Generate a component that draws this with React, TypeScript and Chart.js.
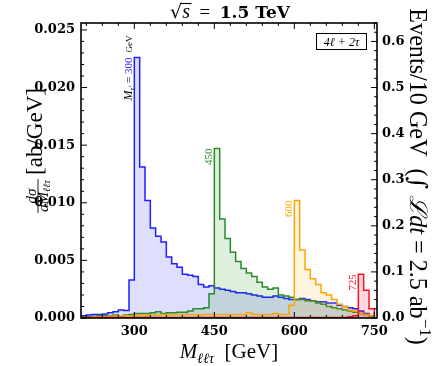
import React, { useEffect, useRef } from "react";
import { Chart, registerables } from "chart.js";

Chart.register(...registerables);

// ---------------- data ----------------
const binStart = 200; // lower edge of first 10 GeV bin
const binWidth = 10;
const xMin = 200;
const xMax = 755;
const yMax = 0.0256;
const eventsPerUnit = 25; // 2.5 ab^-1 x 10 GeV
const xTickValues = [300, 450, 600, 750];
const yTickValues = [0, 0.005, 0.01, 0.015, 0.02, 0.025];
const y2TickValues = [0, 0.1, 0.2, 0.3, 0.4, 0.5, 0.6];
const massLabels = ["300", "450", "600", "725"];

const dsig300 = [
  0.0002, 0.00025, 0.0003, 0.0003, 0.00035, 0.00045, 0.00055, 0.0007, 0.00065, 0.0033,
  0.0226, 0.0131, 0.0102, 0.0078, 0.0071, 0.0066, 0.0053, 0.0047, 0.0044, 0.0038,
  0.0037, 0.0036, 0.0029, 0.0027, 0.0028, 0.0026, 0.0025, 0.0024, 0.0023, 0.0022,
  0.0022, 0.0021, 0.002, 0.0019, 0.0018, 0.0018, 0.0019, 0.0018, 0.0017, 0.0016,
  0.0016, 0.0017, 0.0016, 0.0015, 0.0014, 0.0014, 0.0013, 0.0013, 0.0011, 0.001,
  0.0009, 0.0008, 0.0006, 0.0004, 0.0002,
];
const dsig450 = [
  0.0001, 0.0001, 0.00015, 0.0002, 0.0002, 0.0002, 0.00025, 0.0002, 0.00025, 0.0003,
  0.0004, 0.0004, 0.0004, 0.00045, 0.00055, 0.0004, 0.00045, 0.00045, 0.0005, 0.0005,
  0.0006, 0.0008, 0.0008, 0.0009, 0.0021, 0.0147, 0.0086, 0.0069, 0.0057, 0.0049,
  0.0043, 0.0039, 0.0036, 0.0031, 0.0027, 0.0025, 0.0026, 0.002, 0.0019, 0.0018,
  0.0016, 0.0016, 0.0015, 0.0015, 0.0013, 0.0012, 0.001, 0.0009, 0.0008, 0.0007,
  0.0006, 0.0005, 0.0004, 0.0003, 0.0002,
];
const dsig600 = [
  0.0, 0.00005, 0.0001, 0.0001, 0.0001, 0.00015, 0.00015, 0.0002, 0.0002, 0.0002,
  0.0002, 0.00025, 0.0002, 0.00025, 0.00025, 0.0003, 0.00025, 0.0003, 0.0003, 0.0003,
  0.0003, 0.0003, 0.00025, 0.0003, 0.0003, 0.0003, 0.0003, 0.0003, 0.0003, 0.0003,
  0.0003, 0.00045, 0.0003, 0.0003, 0.0003, 0.0003, 0.0004, 0.0003, 0.0003, 0.0011,
  0.0102, 0.0059, 0.0042, 0.0034, 0.0029, 0.0022, 0.002, 0.0016, 0.0012, 0.001,
  0.0007, 0.0006, 0.0004, 0.0003, 0.0002,
];
const dsig725 = [
  0.00005, 0.00005, 0.00005, 0.00005, 0.00005, 0.00005, 0.00005, 0.00005, 0.00005, 0.00005,
  0.00005, 0.00005, 0.00005, 0.00005, 0.00005, 0.00005, 0.00005, 0.00005, 0.00005, 0.00005,
  0.00005, 0.00005, 0.00005, 0.00005, 0.00005, 0.00005, 0.00005, 0.00005, 0.00005, 0.00005,
  0.00005, 0.00005, 0.00005, 0.00005, 0.00005, 0.00005, 0.00005, 0.00005, 0.00005, 0.00005,
  0.00005, 0.00005, 0.00005, 0.00005, 0.00005, 0.00005, 0.00005, 0.00005, 0.00005, 0.00005,
  0.0001, 0.0002, 0.0038, 0.0024, 0.0008,
];

const seriesValues = [dsig300, dsig450, dsig600, dsig725];
const lineColors = ["#1f1fff", "#2b8a2b", "#ffa500", "#ff1020"];
const fillColors = [
  "rgba(0,0,255,0.13)",
  "rgba(0,128,0,0.13)",
  "rgba(255,165,0,0.12)",
  "rgba(255,0,30,0.15)",
];

// ---------------- text helpers ----------------
const SERIF = "'Liberation Serif', 'DejaVu Serif', serif";
const TICK_FONT = { family: "'DejaVu Serif', serif", size: 13, weight: "bold" as const };

type Run = {
  text: string;
  size: number;
  italic?: boolean;
  bold?: boolean;
  color?: string;
  dy?: number;
  family?: string;
};

function fontOf(r: Run, s: number) {
  return `${r.italic ? "italic " : ""}${r.bold ? "bold " : ""}${(r.size * s).toFixed(2)}px ${r.family ?? SERIF}`;
}
function runsWidth(ctx: CanvasRenderingContext2D, runs: Run[], s = 1) {
  let w = 0;
  for (const r of runs) {
    ctx.font = fontOf(r, s);
    w += ctx.measureText(r.text).width;
  }
  return w;
}
function drawRuns(ctx: CanvasRenderingContext2D, runs: Run[], x: number, y: number, s = 1) {
  ctx.textAlign = "left";
  ctx.textBaseline = "alphabetic";
  let cx = x;
  for (const r of runs) {
    ctx.font = fontOf(r, s);
    ctx.fillStyle = r.color ?? "#000";
    ctx.fillText(r.text, cx, y + (r.dy ?? 0) * s);
    cx += ctx.measureText(r.text).width;
  }
  return cx;
}

// ---------------- decoration plugin ----------------
const decorPlugin = {
  id: "decor",
  afterDraw(chart: any) {
    const ctx: CanvasRenderingContext2D = chart.ctx;
    const a = chart.chartArea;
    const xs = chart.scales.x;
    const ys = chart.scales.y;
    const y2 = chart.scales.y2;
    ctx.save();

    // frame
    ctx.strokeStyle = "#000";
    ctx.lineWidth = 1.6;
    ctx.strokeRect(a.left, a.top, a.right - a.left, a.bottom - a.top);

    // inward ticks
    ctx.lineWidth = 1;
    const seg = (x1: number, y1: number, x2: number, y2p: number) => {
      ctx.beginPath();
      ctx.moveTo(x1, y1);
      ctx.lineTo(x2, y2p);
      ctx.stroke();
    };
    const MAJ = 6;
    const MIN = 3;
    const xStep = (xTickValues[1] - xTickValues[0]) / 5;
    let xv = xTickValues[0];
    while (xv - xStep >= xMin) xv -= xStep;
    for (; xv <= xMax + 1e-9; xv += xStep) {
      const px = xs.getPixelForValue(xv);
      const major = xTickValues.some((t) => Math.abs(t - xv) < 1e-6);
      const L = major ? MAJ : MIN;
      seg(px, a.bottom, px, a.bottom - L);
      seg(px, a.top, px, a.top + L);
    }
    const yStep = (yTickValues[1] - yTickValues[0]) / 5;
    for (let k = 0; k * yStep <= yMax + 1e-12; k++) {
      const v = k * yStep;
      const py = ys.getPixelForValue(v);
      seg(a.left, py, a.left + (k % 5 === 0 ? MAJ : MIN), py);
    }
    const y2Step = (y2TickValues[1] - y2TickValues[0]) / 5;
    for (let k = 0; k * y2Step <= yMax * eventsPerUnit + 1e-12; k++) {
      const v = k * y2Step;
      const py = y2.getPixelForValue(v);
      seg(a.right, py, a.right - (k % 5 === 0 ? MAJ : MIN), py);
    }

    // top title  sqrt(s) = 1.5 TeV
    const titleRuns: Run[] = [
      { text: "√", size: 19, family: "'DejaVu Serif', serif" },
      { text: "s", size: 20, italic: true },
      { text: "  =  ", size: 19 },
      { text: "1.5 TeV", size: 17, bold: true, family: "'DejaVu Serif', serif" },
    ];
    const tw = runsWidth(ctx, titleRuns);
    const tx = (a.left + a.right) / 2 + 1 - tw / 2;
    const tBase = 18;
    drawRuns(ctx, titleRuns, tx, tBase);
    ctx.font = fontOf(titleRuns[0], 1);
    const rootW = ctx.measureText("√").width;
    ctx.font = fontOf(titleRuns[1], 1);
    const sW = ctx.measureText("s").width;
    ctx.lineWidth = 1.1;
    seg(tx + rootW - 1.5, tBase - 14.5, tx + rootW + sW + 1.5, tBase - 14.5);

    // x title
    const xRuns: Run[] = [
      { text: "M", size: 21, italic: true },
      { text: "ℓℓτ", size: 14, italic: true, dy: 5 },
      { text: "  [GeV]", size: 21 },
    ];
    const xw = runsWidth(ctx, xRuns);
    drawRuns(ctx, xRuns, (a.left + a.right) / 2 - xw / 2, chart.height - 8);

    // left title (rotated -90): fraction + [ab/GeV]
    ctx.save();
    ctx.translate(41.5, 213);
    ctx.rotate(-Math.PI / 2);
    const numRuns: Run[] = [{ text: "dσ", size: 15, italic: true }];
    const denRuns: Run[] = [
      { text: "dM", size: 15, italic: true },
      { text: "ℓℓτ", size: 10, italic: true, dy: 2.5 },
    ];
    const nw = runsWidth(ctx, numRuns);
    const dw = runsWidth(ctx, denRuns);
    const fw = Math.max(nw, dw) + 2;
    drawRuns(ctx, numRuns, (fw - nw) / 2, -6);
    drawRuns(ctx, denRuns, (fw - dw) / 2, 6);
    ctx.strokeStyle = "#000";
    ctx.lineWidth = 0.9;
    ctx.beginPath();
    ctx.moveTo(0, -3.5);
    ctx.lineTo(fw, -3.5);
    ctx.stroke();
    const unitRuns: Run[] = [{ text: "[ab/GeV]", size: 21 }];
    const uw = runsWidth(ctx, unitRuns);
    drawRuns(ctx, unitRuns, 38, 0, 87 / uw);
    ctx.restore();

    // right title (rotated +90)
    const rRuns: Run[] = [
      { text: "Events/10 GeV  (", size: 20 },
      { text: "∫", size: 20, family: "'DejaVu Serif', serif" },
      { text: " ", size: 20 },
      { text: "ℒ", size: 20, italic: true },
      { text: "dt", size: 20, italic: true },
      { text: " = 2.5 ab", size: 20 },
      { text: "−1", size: 14, dy: -8 },
      { text: ")", size: 20 },
    ];
    const rs = 337 / runsWidth(ctx, rRuns);
    const rw = runsWidth(ctx, rRuns, rs);
    ctx.save();
    ctx.translate(chart.width - 26, 176.5);
    ctx.rotate(Math.PI / 2);
    drawRuns(ctx, rRuns, -rw / 2, 0, rs);
    ctx.restore();

    // peak labels (rotated -90), anchored on each peak bin
    seriesValues.forEach((vals, i) => {
      let pk = 0;
      vals.forEach((v, j) => {
        if (v > vals[pk]) pk = j;
      });
      const px = xs.getPixelForValue(binStart + pk * binWidth) - 2;
      const py = ys.getPixelForValue(vals[pk]);
      const runs: Run[] =
        i === 0
          ? [
              { text: "M", size: 12, italic: true },
              { text: "τ′", size: 8, italic: true, dy: 2.5 },
              { text: " = ", size: 11 },
              { text: massLabels[i], size: 11, color: lineColors[i] },
            ]
          : [{ text: massLabels[i], size: 11, color: lineColors[i] }];
      const w = runsWidth(ctx, runs);
      ctx.save();
      ctx.translate(px, py);
      ctx.rotate(-Math.PI / 2);
      drawRuns(ctx, runs, -w, 0);
      if (i === 0) drawRuns(ctx, [{ text: "GeV", size: 9 }], 5, 0);
      ctx.restore();
    });

    // channel box
    const boxRuns: Run[] = [
      { text: "4", size: 12, italic: true },
      { text: "ℓ", size: 12, italic: true },
      { text: " + 2", size: 12, italic: true },
      { text: "τ", size: 12, italic: true },
    ];
    const bw = runsWidth(ctx, boxRuns);
    const bx1 = a.right - 10.5;
    const bx0 = bx1 - 50;
    const by0 = a.top + 10.5;
    ctx.lineWidth = 1;
    ctx.strokeStyle = "#000";
    ctx.strokeRect(bx0, by0, 50, 16);
    drawRuns(ctx, boxRuns, bx0 + (50 - bw) / 2, by0 + 12.5);

    ctx.restore();
  },
};

export default function App() {
  const ref = useRef<HTMLCanvasElement>(null);

  useEffect(() => {
    const canvas = ref.current;
    if (!canvas) return;
    const order = [3, 2, 1, 0]; // first dataset is drawn on top
    const datasets = order.map((i) => {
      const vals = seriesValues[i];
      const pts = vals.map((v, j) => ({ x: binStart + j * binWidth, y: v }));
      pts.push({ x: binStart + vals.length * binWidth, y: 0 });
      return {
        label: massLabels[i],
        data: pts,
        stepped: "before" as const,
        fill: "origin",
        borderColor: lineColors[i],
        backgroundColor: fillColors[i],
        borderWidth: 1.5,
        pointRadius: 0,
        xAxisID: "x",
        yAxisID: "y",
      };
    });

    const chart = new Chart(canvas, {
      type: "line",
      data: { datasets },
      options: {
        responsive: false,
        animation: false,
        events: [],
        layout: { padding: { top: 23, left: 0, right: 0, bottom: 0 } },
        plugins: {
          legend: { display: false },
          tooltip: { enabled: false },
          title: { display: false },
        },
        scales: {
          x: {
            type: "linear",
            position: "bottom",
            min: xMin,
            max: xMax,
            grid: { display: false, drawTicks: false },
            border: { display: false },
            ticks: {
              font: TICK_FONT,
              color: "#000",
              padding: 6,
              autoSkip: false,
              maxRotation: 0,
              callback: (v: any) => String(v),
            },
            afterBuildTicks: (s: any) => {
              s.ticks = xTickValues.map((v) => ({ value: v }));
            },
            afterFit: (s: any) => {
              s.height = 48;
            },
          },
          y: {
            type: "linear",
            position: "left",
            min: 0,
            max: yMax,
            grid: { display: false, drawTicks: false },
            border: { display: false },
            ticks: {
              font: TICK_FONT,
              color: "#000",
              padding: 6,
              callback: (v: any) => Number(v).toFixed(3),
            },
            afterBuildTicks: (s: any) => {
              s.ticks = yTickValues.map((v) => ({ value: v }));
            },
            afterFit: (s: any) => {
              s.width = 81;
            },
          },
          y2: {
            type: "linear",
            position: "right",
            min: 0,
            max: yMax * eventsPerUnit,
            grid: { display: false, drawTicks: false },
            border: { display: false },
            ticks: {
              font: TICK_FONT,
              color: "#000",
              padding: 5,
              callback: (v: any) => Number(v).toFixed(1),
            },
            afterBuildTicks: (s: any) => {
              s.ticks = y2TickValues.map((v) => ({ value: v }));
            },
            afterFit: (s: any) => {
              s.width = 59;
            },
          },
        },
      } as any,
      plugins: [decorPlugin],
    });
    return () => chart.destroy();
  }, []);

  return (
    <div style={{ position: "fixed", left: 0, top: 0, width: 436, height: 366, background: "#fff" }}>
      <canvas ref={ref} width={436} height={366} style={{ display: "block", width: 436, height: 366 }} />
    </div>
  );
}
